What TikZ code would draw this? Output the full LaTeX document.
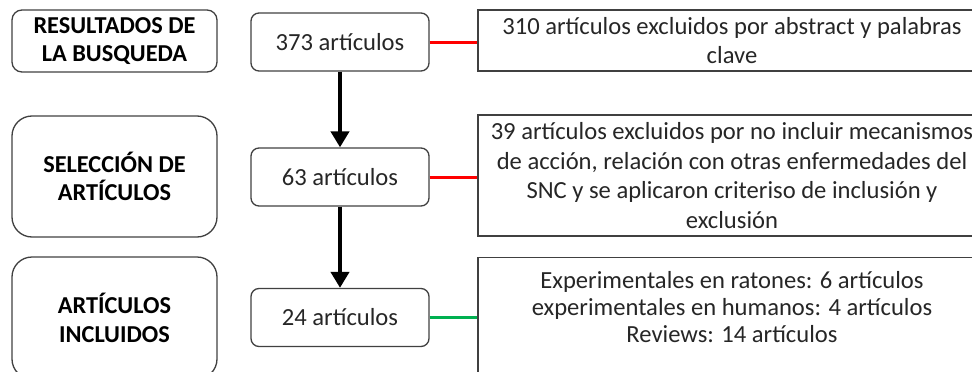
\documentclass[tikz,border=0pt]{standalone}
\usepackage{fontspec}
\setmainfont{Carlito}
\usetikzlibrary{arrows.meta}
\definecolor{dropred}{HTML}{FF0000}
\definecolor{keepgreen}{HTML}{00B050}
\tikzset{
  stage/.style={draw=black!75, line width=1.3pt, minimum width=205pt, align=center,
    font=\fontsize{24.3}{28.5}\selectfont\bfseries},
  count/.style={draw=black!75, line width=1.3pt, rounded corners=8pt, minimum width=178pt,
    minimum height=58pt, text=black!85, font=\fontsize{24.6}{29}\selectfont},
  note/.style={draw=black!75, line width=1.3pt, minimum width=508pt, align=center,
    text=black!85, font=\fontsize{24.6}{29.5}\selectfont},
  flow/.style={line width=4pt, -{Triangle[width=18pt,length=16pt]}},
  drop/.style={line width=3pt, dropred},
  keep/.style={line width=3pt, keepgreen}
}
\begin{document}
\begin{tikzpicture}[x=1pt,y=-1pt]
	\useasboundingbox (0,0) rectangle (972,372);
	\clip (0,0) rectangle (972,372);

	% left column
	\node [stage, minimum height=62pt, rounded corners=10pt] (busq) at (114.5,41) {RESULTADOS DE\\LA BUSQUEDA};
	\node [stage, minimum height=121pt, rounded corners=20pt] (selec) at (114.5,176.5) {SELECCIÓN DE\\ARTÍCULOS};
	\node [stage, minimum height=122pt, rounded corners=20pt] (incl) at (114.5,318) {ARTÍCULOS\\INCLUIDOS};

	% counts
	\node [count] (n1) at (340,42) {373 artículos};
	\node [count] (n2) at (340,177) {63 artículos};
	\node [count] (n3) at (340,317.5) {24 artículos};

	% right column
	\node [note, minimum height=61pt] (r1) at (732,40.5) {310 artículos excluidos por abstract y palabras\\clave};
	\node [note, minimum height=121pt] (r2) at (732,175.5) {39 artículos excluidos por no incluir mecanismos\\de acción, relación con otras enfermedades del\\SNC y se aplicaron criteriso de inclusión y\\exclusión};
	\node [note, anchor=north, inner ysep=14pt, text depth=95pt,
		font=\fontsize{24.6}{27}\selectfont] (r3) at (732,257) {Experimentales en ratones: 6 artículos\\experimentales en humanos: 4 artículos\\Reviews: 14 artículos};

	\draw [flow] (n1) -- (n2);
	\draw [flow] (n2) -- (n3);

	\draw [drop] (n1) -- (n1 -| r1.west);
	\draw [drop] (n2) -- (n2 -| r2.west);
	\draw [keep] (n3) -- (n3 -| r3.west);
\end{tikzpicture}
\end{document}
